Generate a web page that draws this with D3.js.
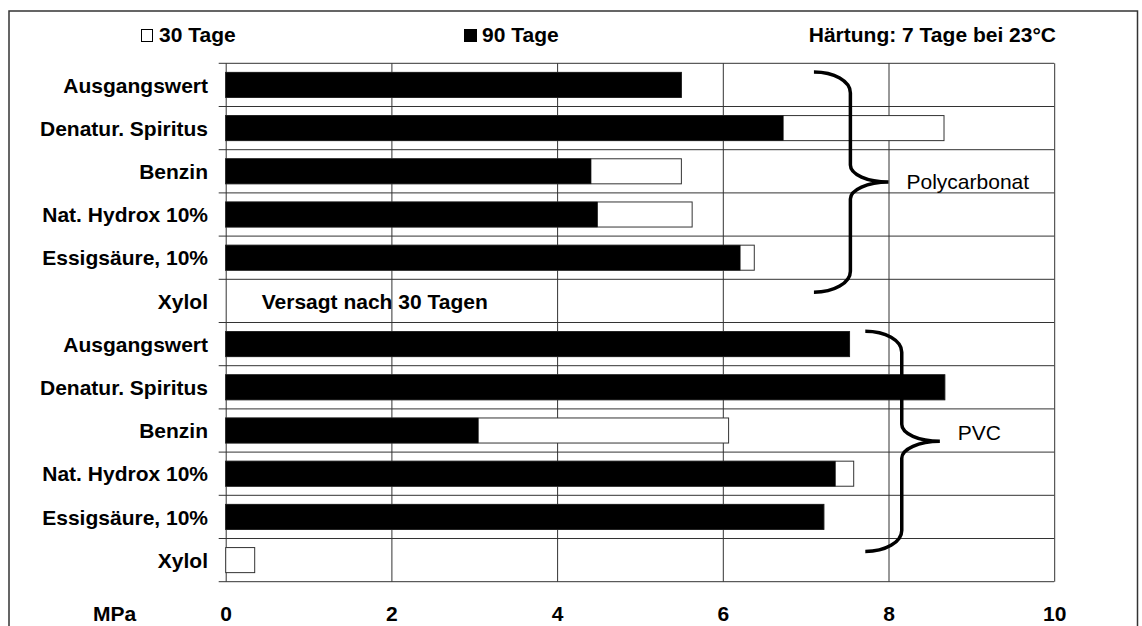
<!DOCTYPE html>
<html>
<head>
<meta charset="utf-8">
<script src="https://cdn.jsdelivr.net/npm/d3@7"></script>
<style>
  body { margin: 0; background: #fff; }
  text { font-family: "Liberation Sans", Arial, sans-serif; }
</style>
</head>
<body>
<div id="chart"></div>
<script>
// Categories (top to bottom), two material groups of six rows each
const categories = [
  "Ausgangswert", "Denatur. Spiritus", "Benzin", "Nat. Hydrox 10%", "Essigsäure, 10%", "Xylol",
  "Ausgangswert", "Denatur. Spiritus", "Benzin", "Nat. Hydrox 10%", "Essigsäure, 10%", "Xylol"
];
// Values in MPa
const values30 = [5.5, 8.67, 5.5, 5.63, 6.38, 0, 7.53, 8.68, 6.07, 7.58, 7.22, 0.35];
const values90 = [5.5, 6.73, 4.41, 4.49, 6.21, 0, 7.53, 8.68, 3.05, 7.36, 7.22, 0];
const xTicks = [0, 2, 4, 6, 8, 10];
const groupNames = ["Polycarbonat", "PVC"];
const groupRows = [[0, 5], [6, 11]];
const braceTips = [8.0, 8.62];

const W = 1142, H = 626;
const margin = { top: 63.3, right: 1142 - 1054.2, bottom: 626 - 581.7, left: 225.7 };
const plotW = W - margin.left - margin.right;
const plotH = H - margin.top - margin.bottom;

const svg = d3.select("#chart").append("svg")
  .attr("width", W).attr("height", H);

// outer frame (bottom edge runs off the picture)
svg.append("rect")
  .attr("x", 9).attr("y", 11).attr("width", 1128.5).attr("height", 640)
  .attr("fill", "none").attr("stroke", "#333").attr("stroke-width", 1.5);

const g = svg.append("g").attr("transform", `translate(${margin.left},${margin.top})`);

const x = d3.scaleLinear().domain([0, 10]).range([0, plotW]);
const y = d3.scaleBand().domain(d3.range(categories.length)).range([0, plotH]).padding(0);
const barH = y.bandwidth() * 0.58;
const barOff = (y.bandwidth() - barH) / 2;

// vertical gridlines
g.append("g")
  .attr("transform", `translate(0,${plotH})`)
  .call(d3.axisBottom(x).tickValues(xTicks).tickSize(-plotH).tickFormat(""))
  .call(s => s.select(".domain").remove())
  .call(s => s.selectAll("line").attr("stroke", "#333").attr("stroke-width", 1));

// horizontal gridlines at row boundaries
const bounds = d3.range(categories.length + 1).map(i => i * y.step());
g.append("g").selectAll("line").data(bounds).join("line")
  .attr("x1", -7).attr("x2", plotW)
  .attr("y1", d => d).attr("y2", d => d)
  .attr("stroke", "#333").attr("stroke-width", 1);

const rows = categories.map((c, i) => ({ i, c, v30: values30[i], v90: values90[i] }));

// 30 Tage bars (white) under 90 Tage bars (black)
g.append("g").selectAll("rect").data(rows.filter(d => d.v30 > 0)).join("rect")
  .attr("x", x(0))
  .attr("y", d => y(d.i) + barOff)
  .attr("width", d => x(d.v30) - x(0))
  .attr("height", barH)
  .attr("fill", "#fff").attr("stroke", "#333").attr("stroke-width", 1);

g.append("g").selectAll("rect").data(rows.filter(d => d.v90 > 0)).join("rect")
  .attr("x", x(0))
  .attr("y", d => y(d.i) + barOff)
  .attr("width", d => x(d.v90) - x(0))
  .attr("height", barH)
  .attr("fill", "#000").attr("stroke", "#222").attr("stroke-width", 0.5);

// category labels
g.append("g")
  .call(d3.axisLeft(y).tickSize(0).tickPadding(17.7).tickFormat(i => categories[i]))
  .call(s => s.select(".domain").remove())
  .call(s => s.selectAll("text")
    .attr("dy", "0.37em")
    .style("font-family", '"Liberation Sans", Arial, sans-serif')
    .style("font-size", "21px").style("font-weight", "bold").attr("fill", "#000"));

// x tick labels
g.append("g")
  .attr("transform", `translate(0,${plotH})`)
  .call(d3.axisBottom(x).tickValues(xTicks).tickSize(0).tickPadding(24.4).tickFormat(d3.format("d")))
  .call(s => s.select(".domain").remove())
  .call(s => s.selectAll("text")
    .style("font-family", '"Liberation Sans", Arial, sans-serif')
    .style("font-size", "21px").style("font-weight", "bold").attr("fill", "#000"));

svg.append("text").attr("x", 93).attr("y", 621)
  .style("font-size", "21px").style("font-weight", "bold").text("MPa");

// failure note
g.append("text")
  .attr("x", x(0) + 36).attr("y", y(5) + y.bandwidth() / 2 + 7.8)
  .style("font-size", "21px").style("font-weight", "bold")
  .text("Versagt nach 30 Tagen");

// braces
function bracePath(top, bottom, xEnd, xArm, xTip) {
  const mid = (top + bottom) / 2, k = 0.552;
  const w1 = xArm - xEnd, h1 = 21;
  const w2 = xTip - xArm, h2 = 17;
  const p = d3.path();
  p.moveTo(xEnd, top);
  p.bezierCurveTo(xEnd + k * w1, top, xArm, top + h1 - k * h1, xArm, top + h1);
  p.lineTo(xArm, mid - h2);
  p.bezierCurveTo(xArm, mid - h2 + k * h2, xTip - k * w2, mid, xTip, mid);
  p.bezierCurveTo(xTip - k * w2, mid, xArm, mid + h2 - k * h2, xArm, mid + h2);
  p.lineTo(xArm, bottom - h1);
  p.bezierCurveTo(xArm, bottom - h1 + k * h1, xEnd + k * w1, bottom, xEnd, bottom);
  return p.toString();
}

const labelDy = [6.6, -1];
groupNames.forEach((name, gi) => {
  const [r0, r1] = groupRows[gi];
  const top = y(r0) + 0.2 * y.step();
  const bottom = y(r1) + 0.3 * y.step();
  const tip = braceTips[gi];
  g.append("path")
    .attr("d", bracePath(top, bottom, x(tip - 0.9), x(tip - 0.46), x(tip)))
    .attr("fill", "none").attr("stroke", "#000").attr("stroke-width", 3.5);
  g.append("text")
    .attr("x", x(tip) + 18).attr("y", (top + bottom) / 2 + labelDy[gi])
    .style("font-size", "21px").text(name);
});

// legend / header
svg.append("rect").attr("x", 141.5).attr("y", 29.5).attr("width", 11).attr("height", 12)
  .attr("fill", "#fff").attr("stroke", "#000").attr("stroke-width", 1);
svg.append("text").attr("x", 159).attr("y", 41.7)
  .style("font-size", "21px").style("font-weight", "bold").text("30 Tage");
svg.append("rect").attr("x", 464).attr("y", 29).attr("width", 13).attr("height", 13)
  .attr("fill", "#000");
svg.append("text").attr("x", 482).attr("y", 41.7)
  .style("font-size", "21px").style("font-weight", "bold").text("90 Tage");
svg.append("text").attr("x", 1056).attr("y", 41.7).attr("text-anchor", "end")
  .style("font-size", "21px").style("font-weight", "bold").text("Härtung: 7 Tage bei 23°C");
</script>
</body>
</html>
